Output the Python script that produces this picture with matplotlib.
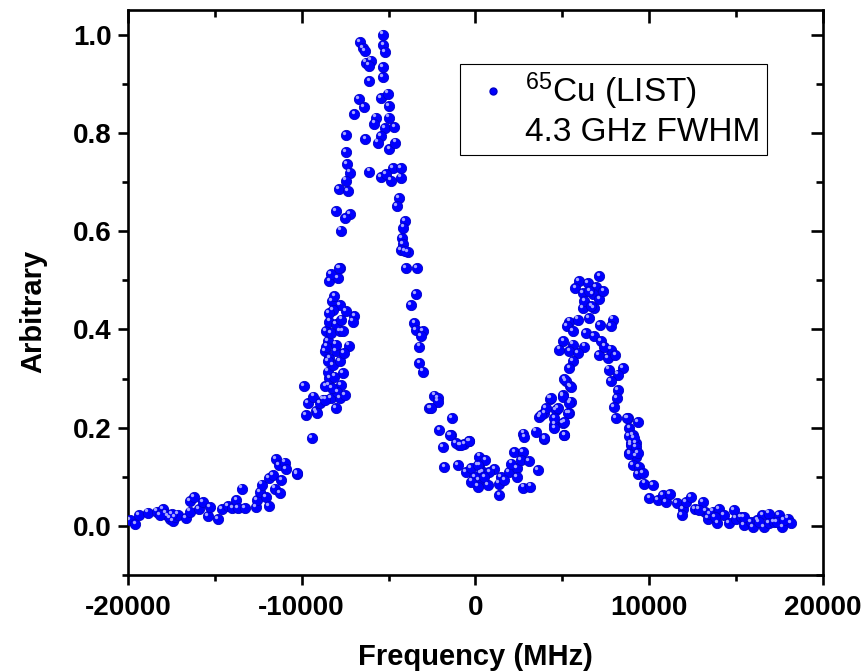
import numpy as np
import matplotlib
matplotlib.use("Agg")
import matplotlib.pyplot as plt
from matplotlib.lines import Line2D
from matplotlib.ticker import MultipleLocator, FormatStrFormatter
from matplotlib.transforms import ScaledTranslation

plt.rcParams['font.family'] = ['Liberation Sans', 'DejaVu Sans']
plt.rcParams['mathtext.default'] = 'regular'
plt.rcParams['axes.unicode_minus'] = False

# 65Cu LIST scan, frequency in MHz, amplitude arbitrary
left_f = [-19900, -19570, -19380, -18860, -18340, -18000, -17790, -17600, -17420, -17310,
          -17140, -16640, -16450, -16450, -16220, -15930, -15700, -15410, -15260, -14840,
          -14570, -14260, -13990, -13760, -13690, -13420, -13280, -12610, -12590, -12380,
          -12270, -12040, -11900, -11900, -11670, -11560, -11500, -11310, -11270, -11170,
          -10980, -10890, -10250, -10280, -17710, -17480, -18170]
left_a = [0.012, 0.003, 0.022, 0.027, 0.029, 0.035, 0.025, 0.015, 0.010, 0.018,
          0.023, 0.016, 0.029, 0.051, 0.059, 0.034, 0.048, 0.020, 0.039, 0.014,
          0.034, 0.041, 0.037, 0.052, 0.037, 0.076, 0.037, 0.039, 0.053, 0.069,
          0.084, 0.059, 0.041, 0.097, 0.103, 0.076, 0.136, 0.124, 0.066, 0.093,
          0.129, 0.116, 0.106, 0.107, 0.020, 0.024, 0.022]

rise_f = [-9390, -9890, -9640, -9740, -9320, -9160, -8780, -8300, -8010, -7820,
          -7720, -8440, -8400, -7630, -8490, -8210, -7820, -8680, -8400, -8010,
          -7290, -8490, -8010, -8590, -8300, -7820, -7630, -8400, -8010, -6960,
          -7060, -7440, -7820, -8240, -8210, -8400, -7920, -8300, -7820, -9130,
          -8970, -8630, -8510, -8110, -7940, -8280, -7590, -8570, -7710, -8110,
          -8450, -7530, -8630]
rise_a = [0.178, 0.284, 0.250, 0.226, 0.263, 0.233, 0.257, 0.260, 0.239, 0.260,
          0.287, 0.287, 0.301, 0.311, 0.314, 0.328, 0.335, 0.355, 0.341, 0.355,
          0.367, 0.376, 0.369, 0.396, 0.392, 0.396, 0.396, 0.416, 0.410, 0.427,
          0.416, 0.438, 0.450, 0.457, 0.440, 0.498, 0.505, 0.512, 0.525, 0.229,
          0.250, 0.257, 0.335, 0.304, 0.273, 0.280, 0.351, 0.365, 0.420, 0.467,
          0.433, 0.267, 0.284]

top_f = [-5330, -6670, -6480, -6380, -5290, -5230, -6290, -6000, -6140, -5330,
         -6100, -5330, -6710, -6440, -5420, -5040, -4990, -6960, -4990, -5710,
         -5810, -7440, -6330, -5230, -4660, -5420, -5620, -4950, -4600, -7440,
         -7380, -7210, -6100, -5420, -4760, -4270, -5140, -4850, -4310, -7440,
         -7860, -7340, -4410, -4500, -8050, -7210, -7480, -7720, -4080, -4140,
         -4220, -4180, -4270, -3890, -7860, -3990, -3380]
top_a = [1.000, 0.984, 0.973, 0.967, 0.978, 0.964, 0.943, 0.947, 0.937, 0.933,
         0.906, 0.913, 0.869, 0.852, 0.871, 0.880, 0.855, 0.838, 0.831, 0.831,
         0.819, 0.796, 0.787, 0.810, 0.811, 0.794, 0.780, 0.767, 0.780, 0.760,
         0.736, 0.719, 0.721, 0.710, 0.729, 0.729, 0.716, 0.703, 0.709, 0.703,
         0.685, 0.682, 0.667, 0.651, 0.641, 0.635, 0.627, 0.601, 0.620, 0.607,
         0.586, 0.574, 0.561, 0.558, 0.525, 0.525, 0.525]

fall_f = [-4080, -3410, -3700, -3510, -3410, -3030, -3120, -3220, -3220, -3030,
          -2360, -2170, -2650, -1340, -2070, -1400, -1880, -920, -350, -630,
          -1780, -1020, -540, -250, 230, 230, 420, -2170, -2550, -1460,
          -1110, -820, -390]
fall_a = [0.559, 0.472, 0.449, 0.413, 0.399, 0.396, 0.386, 0.365, 0.331, 0.314,
          0.265, 0.260, 0.239, 0.219, 0.195, 0.185, 0.161, 0.165, 0.173, 0.166,
          0.120, 0.124, 0.110, 0.118, 0.141, 0.124, 0.110, 0.253, 0.239, 0.184,
          0.168, 0.165, 0.173]

valley_f = [580, 130, 330, 190, 130, 710, 1090, 1340, 1380, 1480,
            1920, 2240, 2380, 2380, 2720, 2630, 3070, 2760, 3160, 3580,
            2760, 2820, 3490, 3970, 3680, 3970, 4300, 4540, 4640, 5020,
            5120, 5410, 5020, 5500, 5450, 5220, -60, -230, 810, 1670,
            2070, 520]
valley_a = [0.134, 0.124, 0.107, 0.093, 0.080, 0.083, 0.116, 0.086, 0.063, 0.100,
            0.110, 0.151, 0.118, 0.100, 0.151, 0.134, 0.132, 0.078, 0.080, 0.114,
            0.188, 0.180, 0.192, 0.177, 0.222, 0.229, 0.259, 0.206, 0.236, 0.209,
            0.185, 0.229, 0.267, 0.253, 0.284, 0.294, 0.100, 0.090, 0.110, 0.094,
            0.127, 0.100]

peak2_f = [7130, 5940, 6460, 5750, 6940, 6170, 6750, 7130, 6170, 6840,
           5410, 5250, 5880, 6520, 7170, 7900, 7800, 5600, 6370, 6840,
           7230, 5060, 4830, 5600, 6270, 5410, 5880, 7090, 7610, 7800,
           8050, 5600, 5410, 7670, 8470, 8180, 5120, 7800, 5500, 8180,
           4350, 5020, 8130, 5410, 7990, 4070, 4730, 5310, 3780, 4540,
           5120, 8090, 8760, 9330, 4540, 5120, 3970, 8860, 9050, 8950,
           9240, 8860, 9240, 6560, 6270, 7360, 6670, 7420]
peak2_a = [0.508, 0.499, 0.494, 0.484, 0.486, 0.474, 0.471, 0.461, 0.443, 0.443,
           0.416, 0.406, 0.420, 0.423, 0.408, 0.420, 0.406, 0.396, 0.392, 0.386,
           0.376, 0.376, 0.359, 0.369, 0.365, 0.355, 0.352, 0.347, 0.341, 0.359,
           0.347, 0.335, 0.321, 0.318, 0.321, 0.308, 0.299, 0.295, 0.282, 0.277,
           0.260, 0.263, 0.260, 0.250, 0.241, 0.239, 0.239, 0.229, 0.226, 0.219,
           0.212, 0.219, 0.219, 0.212, 0.199, 0.185, 0.178, 0.199, 0.185, 0.168,
           0.168, 0.148, 0.141, 0.478, 0.457, 0.478, 0.447, 0.365]

right_f = [8700, 8820, 9140, 8950, 9240, 8860, 9330, 9050, 9430, 9330,
           9620, 9720, 10200, 10010, 10480, 10770, 10970, 11200, 11580, 11920,
           11890, 12120, 12400, 12650, 13070, 13230, 13360, 13650, 13930, 14030,
           14320, 14610, 14890, 14990, 15280, 15470, 15850, 15950, 16230, 16520,
           16620, 16910, 16910, 17190, 17480, 17670, 17960, 18150, 12880, 13460,
           13800, 15470, 16330, 17370, 17770]
right_a = [0.219, 0.182, 0.178, 0.165, 0.161, 0.146, 0.148, 0.124, 0.120, 0.105,
           0.107, 0.086, 0.083, 0.057, 0.052, 0.063, 0.049, 0.064, 0.046, 0.035,
           0.022, 0.049, 0.059, 0.035, 0.049, 0.029, 0.015, 0.029, 0.005, 0.035,
           0.022, 0.005, 0.032, 0.015, 0.018, 0.001, 0.008, -0.002, 0.012, 0.022,
           -0.002, 0.025, 0.005, 0.008, 0.022, -0.002, 0.015, 0.005, 0.033, 0.024,
           0.018, 0.018, 0.008, 0.008, 0.012]

freq = np.array(left_f + rise_f + top_f + fall_f + valley_f + peak2_f + right_f, dtype=float)
amp = np.array(left_a + rise_a + top_a + fall_a + valley_a + peak2_a + right_a)

fig = plt.figure(figsize=(8.64, 6.72), dpi=100)
ax = fig.add_axes([0.148, 0.1443, 0.8045, 0.8408])

# blue "sphere" markers: body + small light spot up-left
ax.plot(freq, amp, 'o', color='#0000ff', markeredgecolor='#0000c8', markeredgewidth=0.6,
        markersize=7.4, linestyle='none', zorder=3)
shift = ScaledTranslation(-0.018, 0.022, fig.dpi_scale_trans)
ax.plot(freq, amp, 'o', color='#a8a8ff', markeredgewidth=0, markersize=2.4,
        linestyle='none', transform=ax.transData + shift, zorder=4)

ax.set_xlim(-20000, 20000)
ax.set_ylim(-0.1, 1.05)

ax.xaxis.set_major_locator(MultipleLocator(10000))
ax.xaxis.set_minor_locator(MultipleLocator(5000))
ax.yaxis.set_major_locator(MultipleLocator(0.2))
ax.yaxis.set_minor_locator(MultipleLocator(0.1))
ax.yaxis.set_major_formatter(FormatStrFormatter('%.1f'))

for s in ax.spines.values():
    s.set_linewidth(1.9)
ax.tick_params(which='both', direction='out', width=1.9, labelsize=20)
ax.tick_params(which='major', length=7.5)
ax.tick_params(which='minor', length=4)
ax.tick_params(axis='y', pad=4)
ax.tick_params(axis='x', pad=7)
for lab in ax.get_xticklabels() + ax.get_yticklabels():
    lab.set_fontweight('bold')

# top / right ticks point inward (Origin style)
top = ax.secondary_xaxis('top')
top.xaxis.set_major_locator(MultipleLocator(10000))
top.xaxis.set_minor_locator(MultipleLocator(5000))
top.tick_params(which='both', direction='in', width=1.9, labeltop=False)
top.tick_params(which='major', length=9)
top.tick_params(which='minor', length=5)
right = ax.secondary_yaxis('right')
right.yaxis.set_major_locator(MultipleLocator(0.2))
right.yaxis.set_minor_locator(MultipleLocator(0.1))
right.tick_params(which='both', direction='in', width=1.9, labelright=False)
right.tick_params(which='major', length=9)
right.tick_params(which='minor', length=5)

ax.set_xlabel('Frequency (MHz)', fontsize=21, fontweight='bold', labelpad=16)
ax.set_ylabel('Arbitrary', fontsize=21, fontweight='bold')
ax.yaxis.set_label_coords(-0.1165, 0.467)

h1 = Line2D([], [], marker='o', color='#0000ff', markeredgecolor='#0000c8',
            markersize=5, linestyle='none')
h2 = Line2D([], [], linestyle='none')
leg = ax.legend([h1, h2], ['$^{65}$Cu (LIST)', '4.3 GHz FWHM'], loc='upper left',
                bbox_to_anchor=(0.4777, 0.9044), fontsize=24, frameon=True, fancybox=False,
                edgecolor='black', framealpha=1, borderpad=0.2, labelspacing=0.15,
                handletextpad=0.15, handlelength=1.6, borderaxespad=0)
leg.get_frame().set_linewidth(0.8)

fig.savefig('out.png', dpi=100)
